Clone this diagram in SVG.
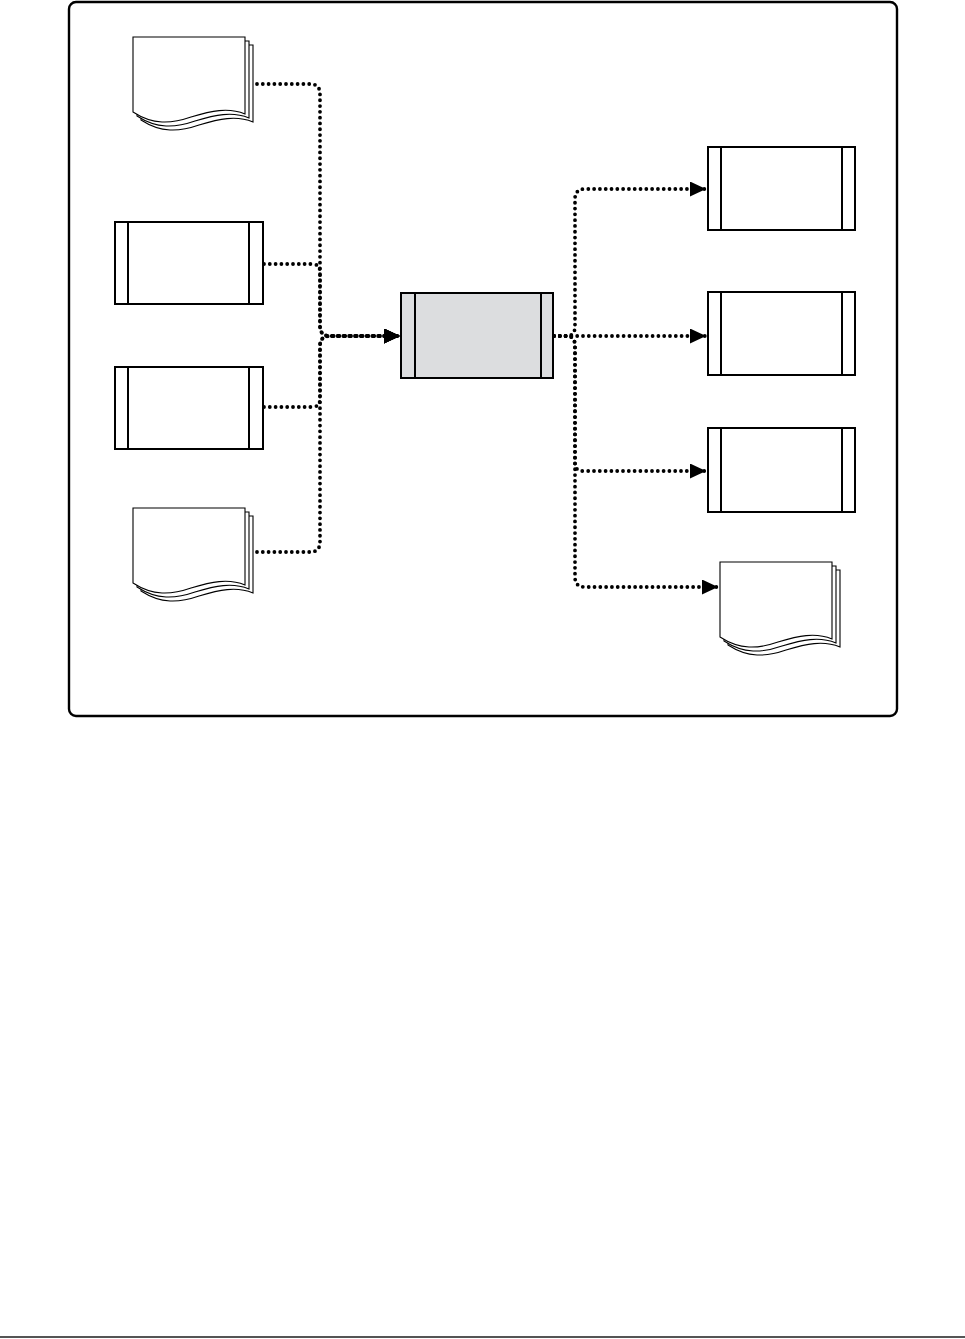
<svg xmlns="http://www.w3.org/2000/svg" xmlns:xlink="http://www.w3.org/1999/xlink" width="965" height="1339" viewBox="0 0 965 1339">
<style>
.frame{fill:#fff;stroke:#000;stroke-width:2.4}
.box{fill:#fff;stroke:#000;stroke-width:2}
.gray{fill:#dcdddf}
.bar{stroke:#000;stroke-width:2}
.page{fill:#fff;stroke:#000;stroke-width:1.1}
.conn{fill:none;stroke:#000;stroke-width:3.8;stroke-linecap:round;stroke-dasharray:0 5.8}
</style>
<defs>
<marker id="arr" markerUnits="userSpaceOnUse" markerWidth="18" markerHeight="16" refX="16" refY="7.5" orient="auto">
<path d="M0,0 L16,7.5 L0,15 Z" fill="#000"/>
</marker>
<path id="pg" d="M0,0 H112 V77 C95,70 78,74 58,80 C38,87 20,88 0,75 Z"/>
<g id="doc">
<use xlink:href="#pg" class="page" transform="translate(8,8)"/>
<use xlink:href="#pg" class="page" transform="translate(4,4)"/>
<use xlink:href="#pg" class="page"/>
</g>
</defs>
<rect width="965" height="1339" fill="#fff"/>
<rect class="frame" x="69" y="2" width="828" height="714" rx="7"/>
<rect x="0" y="1336" width="965" height="2" fill="#555"/>

<g id="connectors">
<path class="conn" d="M257,84 H310 Q320,84 320,94 V326 Q320,336 330,336 H400" marker-end="url(#arr)"/>
<path class="conn" d="M264,264 H312 Q320,264 320,272 V326 Q320,336 330,336 H400" marker-end="url(#arr)"/>
<path class="conn" d="M264,407 H312 Q320,407 320,399 V346 Q320,336 330,336 H400" marker-end="url(#arr)"/>
<path class="conn" d="M257,552 H310 Q320,552 320,542 V346 Q320,336 330,336 H400" marker-end="url(#arr)"/>
<path class="conn" d="M554,336 H567 Q575,336 575,326 V199 Q575,189 585,189 H706" marker-end="url(#arr)"/>
<path class="conn" d="M554,336 H706" marker-end="url(#arr)"/>
<path class="conn" d="M554,336 H567 Q575,336 575,346 V463 Q575,471 583,471 H706" marker-end="url(#arr)"/>
<path class="conn" d="M554,336 H567 Q575,336 575,346 V577 Q575,587 585,587 H718" marker-end="url(#arr)"/>
</g>

<g id="doc-in-1"><use xlink:href="#doc" transform="translate(133,37)"/></g>
<g id="proc-in-1">
<rect class="box" x="115" y="222" width="148" height="82"/>
<line class="bar" x1="128" y1="222" x2="128" y2="304"/>
<line class="bar" x1="249" y1="222" x2="249" y2="304"/>
</g>
<g id="proc-in-2">
<rect class="box" x="115" y="367" width="148" height="82"/>
<line class="bar" x1="128" y1="367" x2="128" y2="449"/>
<line class="bar" x1="249" y1="367" x2="249" y2="449"/>
</g>
<g id="doc-in-2"><use xlink:href="#doc" transform="translate(133,508)"/></g>

<g id="proc-center">
<rect class="box gray" x="401" y="293" width="152" height="85"/>
<line class="bar" x1="415" y1="293" x2="415" y2="378"/>
<line class="bar" x1="541" y1="293" x2="541" y2="378"/>
</g>

<g id="proc-out-1">
<rect class="box" x="708" y="147" width="147" height="83"/>
<line class="bar" x1="721" y1="147" x2="721" y2="230"/>
<line class="bar" x1="842" y1="147" x2="842" y2="230"/>
</g>
<g id="proc-out-2">
<rect class="box" x="708" y="292" width="147" height="83"/>
<line class="bar" x1="721" y1="292" x2="721" y2="375"/>
<line class="bar" x1="842" y1="292" x2="842" y2="375"/>
</g>
<g id="proc-out-3">
<rect class="box" x="708" y="428" width="147" height="84"/>
<line class="bar" x1="721" y1="428" x2="721" y2="512"/>
<line class="bar" x1="842" y1="428" x2="842" y2="512"/>
</g>
<g id="doc-out"><use xlink:href="#doc" transform="translate(720,562)"/></g>
</svg>
